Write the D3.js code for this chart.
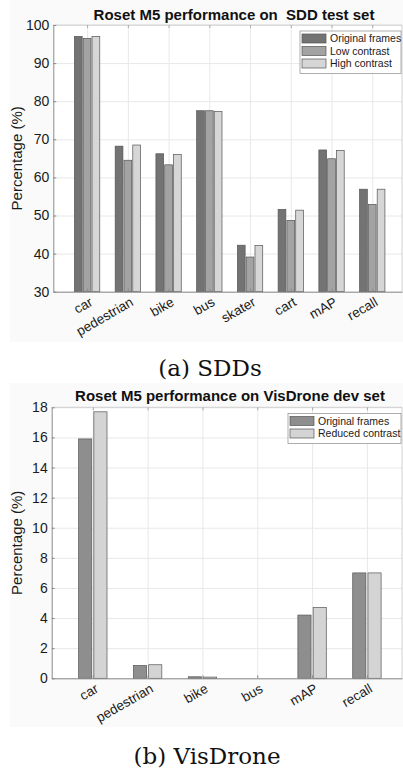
<!DOCTYPE html>
<html>
<head>
<meta charset="utf-8">
<script src="https://cdn.jsdelivr.net/npm/d3@7"></script>
<style>
  body { margin: 0; background: #fff; }
  svg { display: block; font-family: "Liberation Sans", Arial, Helvetica, sans-serif; }
</style>
</head>
<body>
<div id="viz"></div>
<script>
// SDD test set
const sddCategories = ["car", "pedestrian", "bike", "bus", "skater", "cart", "mAP", "recall"];
const sddSeriesNames = ["Original frames", "Low contrast", "High contrast"];
const sddOriginal = [97.0, 68.2, 66.2, 77.5, 42.2, 51.6, 67.2, 56.9];
const sddLow = [96.5, 64.5, 63.3, 77.5, 39.1, 48.7, 64.9, 52.9];
const sddHigh = [97.0, 68.5, 66.0, 77.3, 42.1, 51.4, 67.1, 56.9];
const sddYTicks = [30, 40, 50, 60, 70, 80, 90, 100];

// VisDrone dev set
const visCategories = ["car", "pedestrian", "bike", "bus", "mAP", "recall"];
const visSeriesNames = ["Original frames", "Reduced contrast"];
const visOriginal = [15.9, 0.85, 0.1, 0, 4.2, 7.0];
const visReduced = [17.7, 0.9, 0.08, 0, 4.7, 7.0];
const visYTicks = [0, 2, 4, 6, 8, 10, 12, 14, 16, 18];

const width = 403, height = 769;

const svg = d3.select("#viz").append("svg")
  .attr("width", width)
  .attr("height", height);

function drawChart(cfg) {
  const g = svg.append("g");

  // faint figure background
  g.append("rect")
    .attr("x", cfg.bg[0]).attr("y", cfg.bg[1])
    .attr("width", cfg.bg[2]).attr("height", cfg.bg[3])
    .attr("fill", "#fafafa");

  const x = d3.scaleLinear()
    .domain([1 - cfg.padL, cfg.categories.length + cfg.padR])
    .range([cfg.left, cfg.right]);
  const y = d3.scaleLinear()
    .domain(cfg.yDomain)
    .range([cfg.bottom, cfg.top]);

  // plot area
  g.append("rect")
    .attr("x", cfg.left).attr("y", cfg.top)
    .attr("width", cfg.right - cfg.left).attr("height", cfg.bottom - cfg.top)
    .attr("fill", "#fff");

  const idx = cfg.categories.map((d, i) => i + 1);

  // horizontal gridlines
  g.append("g")
    .attr("transform", `translate(${cfg.left},0)`)
    .call(d3.axisLeft(y).tickValues(cfg.yTicks).tickSize(-(cfg.right - cfg.left)).tickFormat(() => ""))
    .call(s => s.select(".domain").remove())
    .call(s => s.selectAll("line").attr("stroke", "#e8e8e8"));

  // vertical gridlines
  g.append("g")
    .attr("transform", `translate(0,${cfg.bottom})`)
    .call(d3.axisBottom(x).tickValues(idx).tickSize(-(cfg.bottom - cfg.top)).tickFormat(() => ""))
    .call(s => s.select(".domain").remove())
    .call(s => s.selectAll("line").attr("stroke", "#e8e8e8"));

  // top / right box
  g.append("path")
    .attr("d", `M${cfg.left},${cfg.top}H${cfg.right}V${cfg.bottom}`)
    .attr("fill", "none").attr("stroke", "#c8c8c8").attr("stroke-width", 0.8);
  g.append("g")
    .attr("transform", `translate(0,${cfg.top})`)
    .call(d3.axisTop(x).tickValues(idx).tickSize(-3).tickFormat(() => ""))
    .call(s => s.select(".domain").remove())
    .call(s => s.selectAll("line").attr("stroke", "#aaa"));

  // bars
  cfg.series.forEach((vals, j) => {
    g.append("g").selectAll("rect")
      .data(vals)
      .join("rect")
        .attr("x", (d, i) => x(i + 1 + cfg.offsets[j] - cfg.barW / 2))
        .attr("width", x(cfg.barW) - x(0))
        .attr("y", d => y(Math.max(d, cfg.yDomain[0])))
        .attr("height", d => y(cfg.yDomain[0]) - y(Math.max(d, cfg.yDomain[0])))
        .attr("fill", cfg.colors[j])
        .attr("stroke", d => d > 0 ? "#555" : "none")
        .attr("stroke-width", 0.7);
  });

  // y axis
  g.append("g")
    .attr("transform", `translate(${cfg.left},0)`)
    .call(d3.axisLeft(y).tickValues(cfg.yTicks).tickSizeInner(-3).tickSizeOuter(0).tickPadding(4))
    .call(s => s.select(".domain").attr("stroke", "#8a8a8a"))
    .call(s => s.selectAll("line").attr("stroke", "#8a8a8a"))
    .call(s => s.selectAll("text")
      .attr("fill", "#1a1a1a")
      .style("font-size", "14px")
      .style("font-family", "'Liberation Sans', Arial, sans-serif"));

  // x axis with rotated labels
  g.append("g")
    .attr("transform", `translate(0,${cfg.bottom})`)
    .call(d3.axisBottom(x).tickValues(idx).tickSizeInner(-3).tickSizeOuter(0)
      .tickFormat(i => cfg.categories[i - 1]))
    .call(s => s.select(".domain").attr("stroke", "#8a8a8a"))
    .call(s => s.selectAll("line").attr("stroke", "#8a8a8a"))
    .call(s => s.selectAll("text")
      .attr("y", null).attr("dy", null)
      .attr("text-anchor", "end")
      .attr("transform", "translate(6,13) rotate(-30)")
      .attr("fill", "#1a1a1a")
      .style("font-size", "13.5px")
      .style("font-family", "'Liberation Sans', Arial, sans-serif"));

  // y label
  g.append("text")
    .attr("transform", `translate(22,${(cfg.top + cfg.bottom) / 2}) rotate(-90)`)
    .attr("text-anchor", "middle")
    .attr("fill", "#1a1a1a")
    .style("font-size", "15px")
    .text("Percentage (%)");

  // title
  g.append("text")
    .attr("x", cfg.titleX).attr("y", cfg.titleY)
    .attr("text-anchor", "middle")
    .style("font-size", "15px")
    .style("font-weight", "bold")
    .style("white-space", "pre")
    .attr("fill", "#111")
    .text(cfg.title);

  // legend
  const lg = g.append("g").attr("transform", `translate(${cfg.legend.x},${cfg.legend.y})`);
  lg.append("rect")
    .attr("width", cfg.legend.w)
    .attr("height", cfg.legend.rowH * cfg.seriesNames.length + 5)
    .attr("fill", "#fff")
    .attr("stroke", "#8a8a8a")
    .attr("stroke-width", 0.7);
  cfg.seriesNames.forEach((name, j) => {
    const row = lg.append("g").attr("transform", `translate(2,${3 + j * cfg.legend.rowH})`);
    row.append("rect")
      .attr("width", 24).attr("height", cfg.legend.rowH - 3.5)
      .attr("fill", cfg.colors[j])
      .attr("stroke", "#555").attr("stroke-width", 0.7);
    row.append("text")
      .attr("x", 28).attr("y", (cfg.legend.rowH - 3.5) / 2)
      .attr("dy", "0.35em")
      .attr("fill", "#1a1a1a")
      .style("font-size", "10.5px")
      .text(name);
  });

  // caption
  svg.append("text")
    .attr("x", cfg.capX).attr("y", cfg.capY)
    .attr("text-anchor", "middle")
    .style("font-family", "'DejaVu Serif', 'Liberation Serif', serif")
    .style("font-size", "23px")
    .attr("fill", "#111")
    .text(cfg.caption);
}

drawChart({
  categories: sddCategories,
  seriesNames: sddSeriesNames,
  series: [sddOriginal, sddLow, sddHigh],
  colors: ["#737373", "#a3a3a3", "#d6d6d6"],
  offsets: [-0.216, 0, 0.216],
  barW: 0.19,
  yDomain: [30, 100],
  yTicks: sddYTicks,
  left: 53.3, right: 402, top: 25, bottom: 291.7,
  padL: 0.83, padR: 0.73,
  bg: [10, 0, 393, 342],
  title: "Roset M5 performance on  SDD test set",
  titleX: 234, titleY: 20,
  legend: { x: 300, y: 31, w: 101, rowH: 12.5 },
  caption: "(a) SDDs",
  capX: 210, capY: 376
});

drawChart({
  categories: visCategories,
  seriesNames: visSeriesNames,
  series: [visOriginal, visReduced],
  colors: ["#8e8e8e", "#d4d4d4"],
  offsets: [-0.139, 0.139],
  barW: 0.24,
  yDomain: [0, 18],
  yTicks: visYTicks,
  left: 51.7, right: 402, top: 407.3, bottom: 678.3,
  padL: 0.75, padR: 0.64,
  bg: [10, 383, 393, 344],
  title: "Roset M5 performance on VisDrone dev set",
  titleX: 230, titleY: 401,
  legend: { x: 288, y: 413.5, w: 113, rowH: 12.5 },
  caption: "(b) VisDrone",
  capX: 207, capY: 764
});
</script>
</body>
</html>
